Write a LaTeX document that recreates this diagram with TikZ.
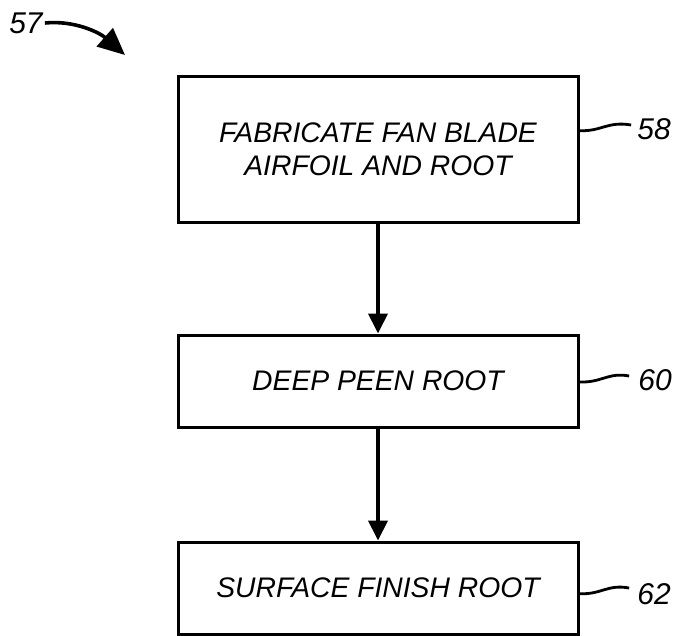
\documentclass[tikz,border=0pt]{standalone}
\usepackage{fontspec}
\setmainfont{Liberation Sans}
\usetikzlibrary{arrows.meta,calc}
\begin{document}
\begin{tikzpicture}[x=1pt,y=-1pt,
  stepbox/.style={draw=black,line width=3pt,minimum width=400pt,inner sep=0pt,align=center,
    font=\fontsize{28.3}{33}\selectfont\itshape},
  reflabel/.style={inner sep=0pt,font=\fontsize{30}{32}\selectfont\itshape},
  flow/.style={line width=4pt,-{Triangle[length=20pt,width=19pt]}},
  leader/.style={line width=2.8pt}]
\useasboundingbox (0,0) rectangle (674,635);
\node[stepbox,minimum height=146pt] (b1) at (378,149) {FABRICATE FAN BLADE\\AIRFOIL AND ROOT};
\node[stepbox,minimum height=92pt] (b2) at (378,381) {DEEP PEEN ROOT};
\node[stepbox,minimum height=92pt] (b3) at (378,588) {SURFACE FINISH ROOT};
\draw[flow] (b1.south) -- (b2.north);
\draw[flow] (b2.south) -- (b3.north);
\node[reflabel] (n58) at (654,129) {58};
\node[reflabel] (n60) at (655,380) {60};
\node[reflabel] (n62) at (654,594) {62};
\node[reflabel] (n57) at (26,23) {57};
\coordinate (s58) at ($(b1.north east)!0.377!(b1.south east)$);
\coordinate (s60) at ($(b2.north east)!0.51!(b2.south east)$);
\coordinate (s62) at ($(b3.north east)!0.56!(b3.south east)$);
\draw[leader] (s58) .. controls ($(s58)+(22,1)$) and ($(n58.west)+(-30,-8)$) .. ($(n58.west)+(-6,-4)$);
\draw[leader] (s60) .. controls ($(s60)+(22,1)$) and ($(n60.west)+(-30,-8)$) .. ($(n60.west)+(-9,-4)$);
\draw[leader] (s62) .. controls ($(s62)+(22,1)$) and ($(n62.west)+(-30,-10)$) .. ($(n62.west)+(-8,-6)$);
\coordinate (a57) at (125,55);
\draw[line width=3.6pt,-{Triangle[length=27pt,width=24pt]}] ($(n57.east)+(2,0)$) .. controls (75,20) and (100,33) .. (a57);
\end{tikzpicture}
\end{document}
